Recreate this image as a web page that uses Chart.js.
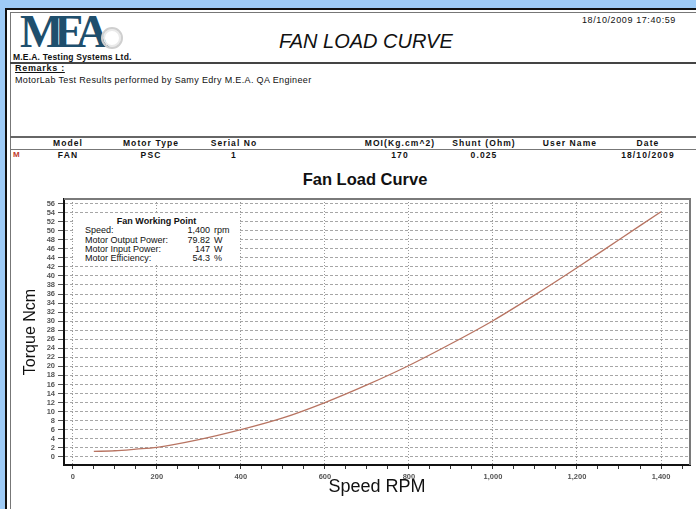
<!DOCTYPE html>
<html>
<head>
<meta charset="utf-8">
<title>Fan Load Curve</title>
<script src="https://cdn.jsdelivr.net/npm/chart.js@4.4.0/dist/chart.umd.min.js"></script>
<style>
  html, body { margin: 0; padding: 0; }
  body {
    width: 696px; height: 509px; overflow: hidden; position: relative;
    background: #9ecbf6;
    font-family: "Liberation Sans", Arial, sans-serif; color: #111;
  }
  .abs { position: absolute; white-space: nowrap; line-height: 1; }
  #page { left: 5px; top: 8px; width: 700px; height: 520px; background: #fff;
          border-left: 2px solid #111; border-top: 2px solid #111; }
  #inner { left: 10px; top: 12px; width: 700px; height: 520px;
           border-left: 1px solid #777; border-top: 1px solid #777; }
  .rule { left: 10px; width: 700px; height: 0; }
  #logo { left: 20px; top: 9px; font-family: "Liberation Serif", serif; font-weight: bold;
          font-size: 46px; letter-spacing: -9px; color: #1f4f6d; }
  #ring { left: 101px; top: 27px; width: 18px; height: 18px; border-radius: 50%;
          border: 2px solid #cfcfcf; box-shadow: inset 0 0 0 2px #eaeaea; }
  .th, .td { width: 110px; text-align: center; font-weight: bold; font-size: 8.5px; letter-spacing: 1.1px; }
  #chart { position: absolute; left: 0; top: 165px; }
  #wp { left: 73px; top: 213px; width: 167px; height: 51px; background: #fff; z-index: 2; }
  .wl { position: absolute; left: 12px; font-size: 9px; line-height: 1; white-space: nowrap; }
  .wn { position: absolute; right: 30px; font-size: 9px; line-height: 1; text-align: right; }
  .wu { position: absolute; left: 141px; font-size: 9px; line-height: 1; }
</style>
</head>
<body>
<div id="page" class="abs"></div>
<div id="inner" class="abs"></div>

<div id="logo" class="abs">MEA</div>
<div id="ring" class="abs"></div>
<div class="abs" style="left:13px;top:53px;font-size:8.5px;font-weight:bold;letter-spacing:0.2px">M.E.A. Testing Systems Ltd.</div>
<div class="abs" style="left:279px;top:31px;font-size:20px;font-style:italic">FAN LOAD CURVE</div>
<div class="abs" style="left:582px;top:16px;font-size:9px;letter-spacing:0.6px">18/10/2009 17:40:59</div>

<div class="abs rule" style="top:62px;border-top:2px solid #444"></div>
<div class="abs" style="left:15px;top:64px;font-size:9px;font-weight:bold;letter-spacing:0.7px;text-decoration:underline">Remarks :</div>
<div class="abs" style="left:15px;top:76px;font-size:9px;letter-spacing:0.35px">MotorLab Test Results performed by Samy Edry M.E.A. QA Engineer</div>

<div class="abs rule" style="top:136px;border-top:2px solid #666"></div>
<div class="abs th" style="left:13px;top:139px">Model</div>
<div class="abs th" style="left:96px;top:139px">Motor Type</div>
<div class="abs th" style="left:179px;top:139px">Serial No</div>
<div class="abs th" style="left:345px;top:139px">MOI(Kg.cm^2)</div>
<div class="abs th" style="left:429px;top:139px">Shunt (Ohm)</div>
<div class="abs th" style="left:515px;top:139px">User Name</div>
<div class="abs th" style="left:593px;top:139px">Date</div>
<div class="abs rule" style="top:149px;border-top:1px solid #777"></div>
<div class="abs" style="left:13px;top:151px;font-size:8px;font-weight:bold;color:#c0392b">M</div>
<div class="abs td" style="left:13px;top:151px">FAN</div>
<div class="abs td" style="left:96px;top:151px">PSC</div>
<div class="abs td" style="left:179px;top:151px">1</div>
<div class="abs td" style="left:345px;top:151px">170</div>
<div class="abs td" style="left:429px;top:151px">0.025</div>
<div class="abs td" style="left:593px;top:151px">18/10/2009</div>

<div class="abs" style="left:265px;top:171px;width:200px;text-align:center;font-size:16.5px;font-weight:bold">Fan Load Curve</div>

<canvas id="chart" width="696" height="344"></canvas>

<div id="wp" class="abs">
  <div class="wl" style="left:0;width:167px;text-align:center;top:4px;font-weight:bold">Fan Working Point</div>
  <div class="wl" style="top:13px">Speed:</div>
  <div class="wn" style="top:13px">1,400</div><div class="wu" style="top:13px">rpm</div>
  <div class="wl" style="top:23px">Motor Output Power:</div>
  <div class="wn" style="top:23px">79.82</div><div class="wu" style="top:23px">W</div>
  <div class="wl" style="top:32px">Motor Input Power:</div>
  <div class="wn" style="top:32px">147</div><div class="wu" style="top:32px">W</div>
  <div class="wl" style="top:41px">Motor Efficiency:</div>
  <div class="wn" style="top:41px">54.3</div><div class="wu" style="top:41px">%</div>
</div>

<script>
const speedRpm = [50, 100, 150, 200, 300, 400, 500, 600, 700, 800, 900, 1000, 1100, 1200, 1300, 1400];
const torqueNcm = [1.2, 1.35, 1.7, 2.1, 3.8, 6.0, 8.6, 12.0, 15.9, 20.2, 25.0, 30.1, 35.8, 41.8, 48.0, 54.2];

const xMin = -21, xMax = 1469;
const yMin = -1.8, yMax = 57;

Chart.defaults.font.family = '"Liberation Sans", Arial, sans-serif';

// gray frame on top and right of the plot
const plotFrame = {
  id: "plotFrame",
  afterDatasetsDraw(chart) {
    const { ctx, chartArea: a } = chart;
    ctx.save();
    ctx.strokeStyle = "#7a7a7a";
    ctx.lineWidth = 2;
    ctx.beginPath();
    ctx.moveTo(a.left, a.top);
    ctx.lineTo(a.right, a.top);
    ctx.lineTo(a.right, a.bottom);
    ctx.stroke();
    ctx.restore();
  },
};

const ctx = document.getElementById("chart").getContext("2d");

const loadChart = new Chart(ctx, {
  type: "line",
  data: {
    datasets: [
      {
        label: "Torque",
        data: speedRpm.map((s, i) => ({ x: s, y: torqueNcm[i] })),
        borderColor: "#b87462",
        borderWidth: 1.3,
        pointRadius: 0,
        cubicInterpolationMode: "monotone",
        fill: false,
      },
    ],
  },
  options: {
    responsive: false,
    animation: false,
    layout: { padding: { left: 11, right: 6, top: 34, bottom: 0 } },
    plugins: { legend: { display: false }, tooltip: { enabled: false } },
    scales: {
      x: {
        type: "linear",
        min: xMin,
        max: xMax,
        afterFit: (scale) => { scale.height = 44; },
        ticks: {
          stepSize: 50,
          includeBounds: false,
          autoSkip: false,
          maxRotation: 0,
          padding: 3,
          color: "#555",
          font: { size: 7.5, weight: "bold" },
          callback: (v) => (v % 200 === 0 ? v.toLocaleString("en-US") : ""),
        },
        grid: {
          color: (c) => (c.tick && c.tick.value % 200 === 0 ? "#999" : "transparent"),
          lineWidth: 1,
          tickLength: 4,
          tickColor: "#333",
        },
        border: { color: "#111", width: 2, dash: [1, 2] },
        title: {
          display: true,
          text: "Speed RPM",
          color: "#111",
          font: { size: 18 },
          padding: { top: 0, bottom: 11 },
        },
      },
      y: {
        min: yMin,
        max: yMax,
        afterFit: (scale) => { scale.width = 53; },
        ticks: {
          stepSize: 2,
          includeBounds: false,
          autoSkip: false,
          padding: 3,
          color: "#555",
          font: { size: 7.5, weight: "bold" },
        },
        grid: {
          color: "#a6a6a6",
          lineWidth: 1,
          tickLength: 6,
          tickColor: "#555",
        },
        border: { color: "#111", width: 2, dash: [3, 2] },
        title: {
          display: true,
          text: "Torque Ncm",
          color: "#111",
          font: { size: 16 },
          padding: { top: 10, bottom: 0 },
        },
      },
    },
  },
  plugins: [plotFrame],
});
</script>
</body>
</html>
